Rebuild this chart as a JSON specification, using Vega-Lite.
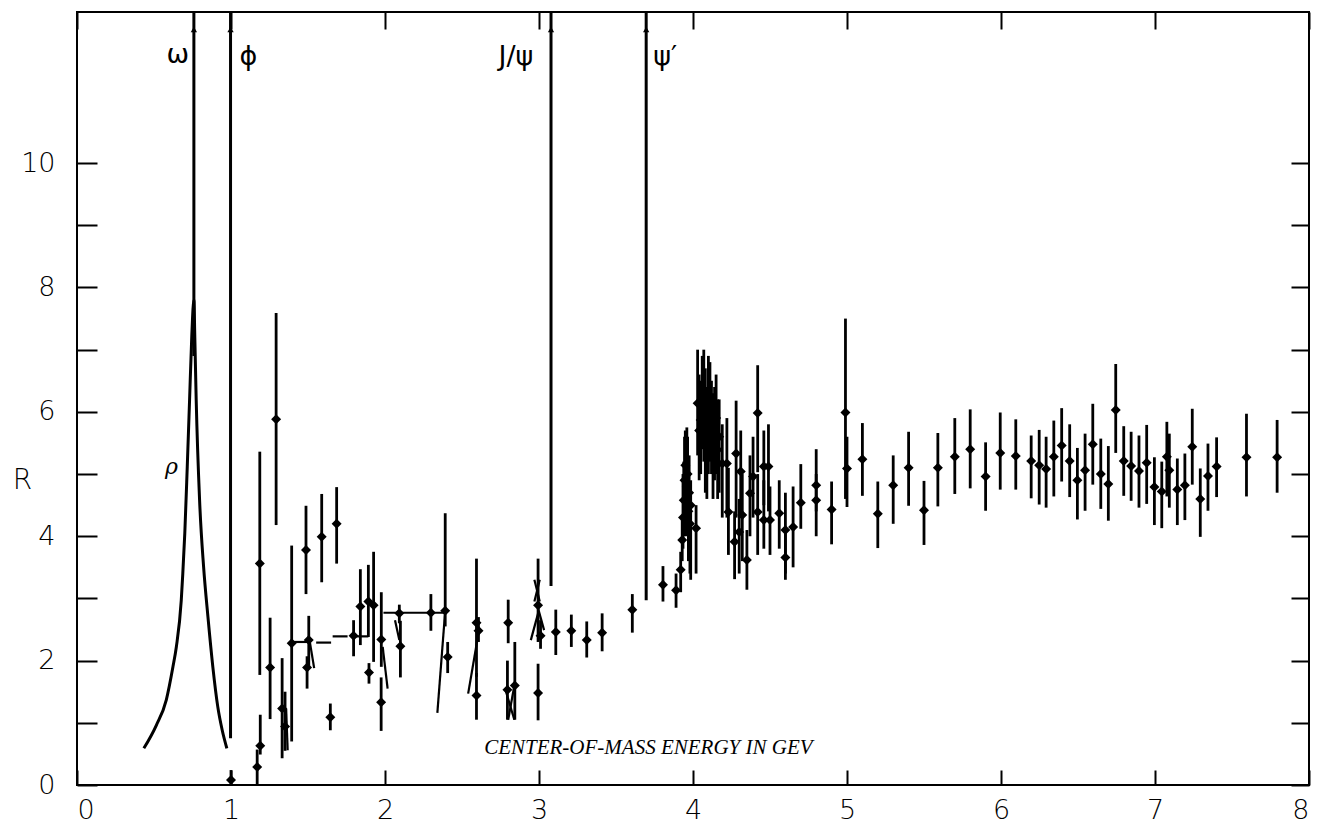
{
  "$schema": "https://vega.github.io/schema/vega-lite/v6.json",
  "width": 1232,
  "height": 773,
  "autosize": {"type": "none"},
  "padding": {"left": 77, "top": 12, "right": 15, "bottom": 43},
  "background": "white",
  "config": {
    "view": {"stroke": "black", "strokeWidth": 2},
    "axis": {"grid": false, "domain": false, "tickColor": "black", "tickWidth": 2, "labelColor": "black", "labelFont": "DejaVu Sans", "labelFontWeight": 200, "labelFontSize": 27, "titleFont": "DejaVu Sans", "titleColor": "black"}
  },
  "datasets": {
    "pts": [
      {"x": 1.00, "y": 0.08, "lo": 0.0, "hi": 0.24},
      {"x": 1.17, "y": 0.29, "lo": 0.0, "hi": 0.57},
      {"x": 1.19, "y": 0.63, "lo": 0.49, "hi": 1.13},
      {"x": 1.187, "y": 3.56, "lo": 1.77, "hi": 5.36},
      {"x": 1.293, "y": 5.88, "lo": 4.18, "hi": 7.59},
      {"x": 1.254, "y": 1.89, "lo": 1.06, "hi": 2.69},
      {"x": 1.332, "y": 1.23, "lo": 0.43, "hi": 2.04},
      {"x": 1.351, "y": 0.94, "lo": 0.55, "hi": 1.5},
      {"x": 1.394, "y": 2.28, "lo": 0.7, "hi": 3.85},
      {"x": 1.505, "y": 2.33, "lo": 1.88, "hi": 2.72},
      {"x": 1.494, "y": 1.89, "lo": 1.55, "hi": 2.07},
      {"x": 1.487, "y": 3.78, "lo": 3.07, "hi": 4.49},
      {"x": 1.589, "y": 3.99, "lo": 3.26, "hi": 4.68},
      {"x": 1.686, "y": 4.2, "lo": 3.56, "hi": 4.79},
      {"x": 1.645, "y": 1.09, "lo": 0.88, "hi": 1.31},
      {"x": 1.796, "y": 2.4, "lo": 2.07, "hi": 2.65},
      {"x": 1.84, "y": 2.87, "lo": 2.25, "hi": 3.47},
      {"x": 1.892, "y": 2.95, "lo": 2.38, "hi": 3.54},
      {"x": 1.926, "y": 2.89, "lo": 1.98, "hi": 3.75},
      {"x": 1.976, "y": 2.34, "lo": 1.9, "hi": 3.1},
      {"x": 1.975, "y": 1.33, "lo": 0.87, "hi": 1.73},
      {"x": 1.896, "y": 1.81, "lo": 1.63, "hi": 1.96},
      {"x": 2.093, "y": 2.76, "lo": 2.6, "hi": 2.9},
      {"x": 2.1, "y": 2.23, "lo": 1.73, "hi": 2.64},
      {"x": 2.298, "y": 2.77, "lo": 2.48, "hi": 3.07},
      {"x": 2.391, "y": 2.8, "lo": 2.55, "hi": 4.37},
      {"x": 2.407, "y": 2.06, "lo": 1.8, "hi": 2.3},
      {"x": 2.594, "y": 2.61, "lo": 1.74, "hi": 3.64},
      {"x": 2.607, "y": 2.48, "lo": 2.3, "hi": 2.7},
      {"x": 2.594, "y": 1.44, "lo": 1.05, "hi": 1.8},
      {"x": 2.8, "y": 2.61, "lo": 2.28, "hi": 2.98},
      {"x": 2.795, "y": 1.53, "lo": 1.05, "hi": 2.0},
      {"x": 2.843, "y": 1.6, "lo": 1.05, "hi": 2.3},
      {"x": 2.994, "y": 2.89, "lo": 2.3, "hi": 3.64},
      {"x": 3.01, "y": 2.4, "lo": 2.19, "hi": 2.65},
      {"x": 2.994, "y": 1.48, "lo": 1.04, "hi": 1.95},
      {"x": 3.109, "y": 2.46, "lo": 2.09, "hi": 2.82},
      {"x": 3.21, "y": 2.48, "lo": 2.22, "hi": 2.74},
      {"x": 3.31, "y": 2.33, "lo": 2.05, "hi": 2.63},
      {"x": 3.41, "y": 2.45, "lo": 2.15, "hi": 2.76},
      {"x": 3.606, "y": 2.82, "lo": 2.45, "hi": 3.07},
      {"x": 3.805, "y": 3.22, "lo": 2.95, "hi": 3.52},
      {"x": 3.89, "y": 3.13, "lo": 2.85, "hi": 3.4},
      {"x": 3.92, "y": 3.46, "lo": 3.1, "hi": 3.75},
      {"x": 3.93, "y": 3.94, "lo": 3.6, "hi": 4.3},
      {"x": 3.935, "y": 4.3, "lo": 3.8, "hi": 5.0},
      {"x": 3.94, "y": 4.58, "lo": 4.0, "hi": 5.2},
      {"x": 3.945, "y": 4.9, "lo": 4.3, "hi": 5.6},
      {"x": 3.95, "y": 5.14, "lo": 4.6, "hi": 5.7},
      {"x": 3.955, "y": 4.6, "lo": 4.0, "hi": 5.3},
      {"x": 3.96, "y": 4.8, "lo": 4.2, "hi": 5.75},
      {"x": 3.965, "y": 5.0, "lo": 4.4, "hi": 5.6},
      {"x": 3.97, "y": 4.4, "lo": 3.6, "hi": 5.0},
      {"x": 3.975, "y": 4.7, "lo": 3.9, "hi": 5.3},
      {"x": 3.98, "y": 4.2, "lo": 3.4, "hi": 4.8},
      {"x": 3.985, "y": 4.5, "lo": 3.3, "hi": 4.9},
      {"x": 4.02, "y": 4.13, "lo": 3.4, "hi": 4.5},
      {"x": 4.03, "y": 6.14, "lo": 5.3, "hi": 7.0},
      {"x": 4.04, "y": 5.7, "lo": 4.9, "hi": 6.6},
      {"x": 4.05, "y": 5.87, "lo": 5.0, "hi": 6.5},
      {"x": 4.06, "y": 6.2, "lo": 5.4, "hi": 6.9},
      {"x": 4.07, "y": 6.08, "lo": 5.2, "hi": 7.0},
      {"x": 4.08, "y": 5.8, "lo": 4.7, "hi": 6.7},
      {"x": 4.09, "y": 5.55, "lo": 4.6, "hi": 6.4},
      {"x": 4.1, "y": 5.92, "lo": 5.0, "hi": 6.9},
      {"x": 4.11, "y": 6.0, "lo": 5.2, "hi": 6.8},
      {"x": 4.12, "y": 5.82, "lo": 5.0, "hi": 6.5},
      {"x": 4.13, "y": 5.5, "lo": 4.6, "hi": 6.3},
      {"x": 4.14, "y": 5.71, "lo": 4.9, "hi": 6.4},
      {"x": 4.15, "y": 5.9, "lo": 5.0, "hi": 6.6},
      {"x": 4.16, "y": 5.39, "lo": 4.6, "hi": 6.2},
      {"x": 4.17, "y": 5.6, "lo": 4.7, "hi": 6.2},
      {"x": 4.19, "y": 5.17, "lo": 4.3, "hi": 5.8},
      {"x": 4.22, "y": 5.17, "lo": 4.3, "hi": 5.9},
      {"x": 4.23, "y": 4.39, "lo": 3.7, "hi": 5.1},
      {"x": 4.27, "y": 3.91, "lo": 3.31, "hi": 4.4},
      {"x": 4.28, "y": 5.33, "lo": 4.3, "hi": 6.18},
      {"x": 4.31, "y": 5.04, "lo": 4.3, "hi": 5.7},
      {"x": 4.3, "y": 4.07, "lo": 3.4, "hi": 4.6},
      {"x": 4.32, "y": 4.34, "lo": 3.6, "hi": 5.0},
      {"x": 4.35, "y": 3.62, "lo": 3.14, "hi": 4.1},
      {"x": 4.37, "y": 4.69, "lo": 4.0, "hi": 5.3},
      {"x": 4.39, "y": 4.96, "lo": 4.3, "hi": 5.6},
      {"x": 4.42, "y": 4.39, "lo": 3.7, "hi": 5.0},
      {"x": 4.42, "y": 5.98, "lo": 5.03, "hi": 6.75},
      {"x": 4.46, "y": 5.12, "lo": 4.5, "hi": 5.7},
      {"x": 4.49, "y": 5.12, "lo": 4.4, "hi": 5.8},
      {"x": 4.46, "y": 4.26, "lo": 3.8, "hi": 4.9},
      {"x": 4.5, "y": 4.26, "lo": 3.7, "hi": 4.8},
      {"x": 4.56, "y": 4.37, "lo": 3.8, "hi": 4.9},
      {"x": 4.6, "y": 4.1, "lo": 3.4, "hi": 4.7},
      {"x": 4.6, "y": 3.66, "lo": 3.3, "hi": 4.1},
      {"x": 4.65, "y": 4.15, "lo": 3.5, "hi": 4.8},
      {"x": 4.7, "y": 4.54, "lo": 4.12, "hi": 5.16},
      {"x": 4.8, "y": 4.82, "lo": 4.4, "hi": 5.4},
      {"x": 4.8, "y": 4.58, "lo": 4.0, "hi": 5.0},
      {"x": 4.9, "y": 4.43, "lo": 3.87, "hi": 4.88},
      {"x": 4.99, "y": 5.99, "lo": 4.6, "hi": 7.5},
      {"x": 5.0, "y": 5.09, "lo": 4.47, "hi": 5.6},
      {"x": 5.1, "y": 5.24, "lo": 4.65, "hi": 5.82},
      {"x": 5.2, "y": 4.36, "lo": 3.81, "hi": 4.88},
      {"x": 5.3, "y": 4.82, "lo": 4.2, "hi": 5.3},
      {"x": 5.4, "y": 5.1, "lo": 4.49, "hi": 5.68},
      {"x": 5.5, "y": 4.42, "lo": 3.86, "hi": 4.89},
      {"x": 5.59, "y": 5.1, "lo": 4.48, "hi": 5.66},
      {"x": 5.7, "y": 5.28, "lo": 4.68, "hi": 5.9},
      {"x": 5.8, "y": 5.4, "lo": 4.77, "hi": 6.04},
      {"x": 5.9, "y": 4.96, "lo": 4.41, "hi": 5.51},
      {"x": 5.995, "y": 5.34, "lo": 4.75, "hi": 5.99},
      {"x": 6.096, "y": 5.29, "lo": 4.75, "hi": 5.88},
      {"x": 6.196, "y": 5.21, "lo": 4.61, "hi": 5.62},
      {"x": 6.248, "y": 5.14, "lo": 4.51, "hi": 5.71},
      {"x": 6.293, "y": 5.08, "lo": 4.46, "hi": 5.6},
      {"x": 6.343, "y": 5.28, "lo": 4.64, "hi": 5.86},
      {"x": 6.394, "y": 5.46, "lo": 4.88, "hi": 6.06},
      {"x": 6.446, "y": 5.21, "lo": 4.63, "hi": 5.8},
      {"x": 6.496, "y": 4.9, "lo": 4.27, "hi": 5.42},
      {"x": 6.546, "y": 5.06, "lo": 4.41, "hi": 5.65},
      {"x": 6.596, "y": 5.48, "lo": 4.83, "hi": 6.13},
      {"x": 6.648, "y": 5.0, "lo": 4.44, "hi": 5.57},
      {"x": 6.697, "y": 4.84, "lo": 4.25, "hi": 5.45},
      {"x": 6.745, "y": 6.03, "lo": 5.34, "hi": 6.77},
      {"x": 6.797, "y": 5.21, "lo": 4.65, "hi": 5.77},
      {"x": 6.845, "y": 5.13, "lo": 4.57, "hi": 5.68},
      {"x": 6.896, "y": 5.05, "lo": 4.46, "hi": 5.62},
      {"x": 6.946, "y": 5.18, "lo": 4.52, "hi": 5.79},
      {"x": 6.996, "y": 4.79, "lo": 4.18, "hi": 5.27},
      {"x": 7.044, "y": 4.72, "lo": 4.13, "hi": 5.2},
      {"x": 7.077, "y": 5.28, "lo": 4.64, "hi": 5.84},
      {"x": 7.093, "y": 5.06, "lo": 4.46, "hi": 5.65},
      {"x": 7.145, "y": 4.75, "lo": 4.18, "hi": 5.25},
      {"x": 7.194, "y": 4.82, "lo": 4.26, "hi": 5.33},
      {"x": 7.242, "y": 5.44, "lo": 4.83, "hi": 6.05},
      {"x": 7.294, "y": 4.6, "lo": 3.99, "hi": 5.09},
      {"x": 7.344, "y": 4.97, "lo": 4.41, "hi": 5.49},
      {"x": 7.4, "y": 5.12, "lo": 4.63, "hi": 5.59},
      {"x": 7.594, "y": 5.27, "lo": 4.64, "hi": 5.97},
      {"x": 7.793, "y": 5.27, "lo": 4.7, "hi": 5.87}
    ],
    "segs": [
      {"x": 1.358, "y": 1.23, "x2": 1.368, "y2": 0.56},
      {"x": 1.394, "y": 2.3, "x2": 1.505, "y2": 2.3},
      {"x": 1.51, "y": 2.33, "x2": 1.54, "y2": 1.88},
      {"x": 1.553, "y": 2.29, "x2": 1.65, "y2": 2.29},
      {"x": 1.66, "y": 2.39, "x2": 1.757, "y2": 2.39},
      {"x": 1.796, "y": 2.39, "x2": 1.892, "y2": 2.39},
      {"x": 1.985, "y": 2.22, "x2": 2.017, "y2": 1.55},
      {"x": 2.065, "y": 2.65, "x2": 2.093, "y2": 2.33},
      {"x": 1.99, "y": 2.77, "x2": 2.39, "y2": 2.77},
      {"x": 2.39, "y": 2.77, "x2": 2.34, "y2": 1.16},
      {"x": 2.607, "y": 2.44, "x2": 2.54, "y2": 1.47},
      {"x": 2.78, "y": 1.55, "x2": 2.84, "y2": 1.05},
      {"x": 2.8, "y": 1.05, "x2": 2.84, "y2": 1.6},
      {"x": 2.994, "y": 2.76, "x2": 2.947, "y2": 2.33},
      {"x": 2.994, "y": 2.84, "x2": 3.033, "y2": 2.49},
      {"x": 2.97, "y": 3.3, "x2": 3.005, "y2": 2.95},
      {"x": 3.005, "y": 3.3, "x2": 2.97, "y2": 2.95},
      {"x": 3.93, "y": 3.94, "x2": 3.95, "y2": 3.94}
    ],
    "res": [
      {"x": 0.759, "y": 6.9, "y2": 12.43},
      {"x": 0.997, "y": 0.75, "y2": 12.43},
      {"x": 3.078, "y": 3.2, "y2": 12.43},
      {"x": 3.696, "y": 2.97, "y2": 12.43}
    ],
    "rho": [
      {"x": 0.434, "y": 0.59},
      {"x": 0.515, "y": 0.96},
      {"x": 0.58, "y": 1.37},
      {"x": 0.623, "y": 1.9},
      {"x": 0.645, "y": 2.22},
      {"x": 0.677, "y": 2.97},
      {"x": 0.687, "y": 3.4},
      {"x": 0.7, "y": 4.05},
      {"x": 0.716, "y": 5.12},
      {"x": 0.731, "y": 6.19},
      {"x": 0.745, "y": 7.2},
      {"x": 0.759, "y": 7.8},
      {"x": 0.765, "y": 7.2},
      {"x": 0.774, "y": 6.19},
      {"x": 0.796, "y": 4.58},
      {"x": 0.822, "y": 3.51},
      {"x": 0.85, "y": 2.71},
      {"x": 0.882, "y": 1.9},
      {"x": 0.914, "y": 1.26},
      {"x": 0.943, "y": 0.88},
      {"x": 0.973, "y": 0.59}
    ],
    "names": [
      {"x": 0.654, "y": 11.74, "t": "ω"},
      {"x": 1.113, "y": 11.7, "t": "ϕ"},
      {"x": 2.85, "y": 11.7, "t": "J/ψ"},
      {"x": 3.82, "y": 11.7, "t": "ψ′"}
    ]
  },
  "layer": [
    {
      "data": {"name": "pts"},
      "mark": {"type": "rule", "color": "black", "strokeWidth": 2.8, "clip": true},
      "encoding": {
        "x": {"field": "x", "type": "quantitative", "scale": {"domain": [0, 8], "nice": false, "zero": false},
              "axis": {"orient": "bottom", "values": [0,1,2,3,4,5,6,7,8], "tickSize": -15, "labelPadding": 27, "title": null}},
        "y": {"field": "lo", "type": "quantitative", "scale": {"domain": [0, 12.43], "nice": false, "zero": false},
              "axis": {"orient": "left", "values": [0,1,2,3,4,5,6,7,8,9,10], "tickSize": -20, "labelPadding": 42,
                       "labelExpr": "datum.value % 2 === 0 ? datum.label : ''",
                       "title": "R", "titleAngle": 0, "titleX": -55, "titleY": 468, "titleAlign": "center", "titleBaseline": "middle",
                       "titleFontSize": 28, "titleFontWeight": 200}},
        "y2": {"field": "hi"}
      }
    },
    {
      "data": {"name": "pts"},
      "mark": {"type": "point", "shape": "diamond", "filled": true, "color": "black", "opacity": 1, "size": 100, "clip": true},
      "encoding": {
        "x": {"field": "x", "type": "quantitative", "scale": {"domain": [0, 8], "nice": false, "zero": false},
              "axis": {"orient": "top", "values": [0,1,2,3,4,5,6,7,8], "tickSize": -17, "labels": false, "title": null}},
        "y": {"field": "y", "type": "quantitative", "scale": {"domain": [0, 12.43], "nice": false, "zero": false},
              "axis": {"orient": "right", "values": [0,1,2,3,4,5,6,7,8,9,10], "tickSize": -18, "labels": false, "title": null}}
      }
    },
    {
      "data": {"name": "segs"},
      "mark": {"type": "rule", "color": "black", "strokeWidth": 2.2, "clip": true},
      "encoding": {
        "x": {"field": "x", "type": "quantitative", "scale": {"domain": [0, 8], "nice": false, "zero": false}, "axis": null},
        "y": {"field": "y", "type": "quantitative", "scale": {"domain": [0, 12.43], "nice": false, "zero": false}, "axis": null},
        "x2": {"field": "x2"},
        "y2": {"field": "y2"}
      }
    },
    {
      "data": {"name": "res"},
      "mark": {"type": "rule", "color": "black", "strokeWidth": 3, "clip": true},
      "encoding": {
        "x": {"field": "x", "type": "quantitative", "scale": {"domain": [0, 8], "nice": false, "zero": false}, "axis": null},
        "y": {"field": "y", "type": "quantitative", "scale": {"domain": [0, 12.43], "nice": false, "zero": false}, "axis": null},
        "y2": {"field": "y2"}
      }
    },
    {
      "data": {"name": "res"},
      "mark": {"type": "point", "shape": "triangle-up", "filled": true, "color": "black", "opacity": 1, "size": 40, "clip": true},
      "encoding": {
        "x": {"field": "x", "type": "quantitative", "scale": {"domain": [0, 8], "nice": false, "zero": false}, "axis": null},
        "y": {"datum": 12.15, "type": "quantitative", "scale": {"domain": [0, 12.43], "nice": false, "zero": false}, "axis": null}
      }
    },
    {
      "data": {"name": "rho"},
      "mark": {"type": "line", "color": "black", "strokeWidth": 3, "interpolate": "monotone", "clip": true},
      "encoding": {
        "x": {"field": "x", "type": "quantitative", "scale": {"domain": [0, 8], "nice": false, "zero": false}, "axis": null},
        "y": {"field": "y", "type": "quantitative", "scale": {"domain": [0, 12.43], "nice": false, "zero": false}, "axis": null},
        "order": {"field": "x", "type": "quantitative"}
      }
    },
    {
      "data": {"name": "names"},
      "mark": {"type": "text", "font": "DejaVu Sans", "fontSize": 27, "color": "black", "align": "center", "baseline": "middle"},
      "encoding": {
        "x": {"field": "x", "type": "quantitative", "scale": {"domain": [0, 8], "nice": false, "zero": false}, "axis": null},
        "y": {"field": "y", "type": "quantitative", "scale": {"domain": [0, 12.43], "nice": false, "zero": false}, "axis": null},
        "text": {"field": "t"}
      }
    },
    {
      "data": {"values": [{"x": 0.614, "y": 5.11, "t": "ρ"}]},
      "mark": {"type": "text", "font": "DejaVu Serif", "fontStyle": "italic", "fontSize": 22, "color": "black", "align": "center", "baseline": "middle"},
      "encoding": {
        "x": {"field": "x", "type": "quantitative", "scale": {"domain": [0, 8], "nice": false, "zero": false}, "axis": null},
        "y": {"field": "y", "type": "quantitative", "scale": {"domain": [0, 12.43], "nice": false, "zero": false}, "axis": null},
        "text": {"field": "t"}
      }
    },
    {
      "data": {"values": [{"x": 2.644, "y": 0.6, "t": "CENTER-OF-MASS ENERGY IN GEV"}]},
      "mark": {"type": "text", "font": "Liberation Serif", "fontStyle": "italic", "fontSize": 21, "color": "black", "align": "left", "baseline": "middle"},
      "encoding": {
        "x": {"field": "x", "type": "quantitative", "scale": {"domain": [0, 8], "nice": false, "zero": false}, "axis": null},
        "y": {"field": "y", "type": "quantitative", "scale": {"domain": [0, 12.43], "nice": false, "zero": false}, "axis": null},
        "text": {"field": "t"}
      }
    }
  ],
  "resolve": {"axis": {"x": "independent", "y": "independent"}}
}
